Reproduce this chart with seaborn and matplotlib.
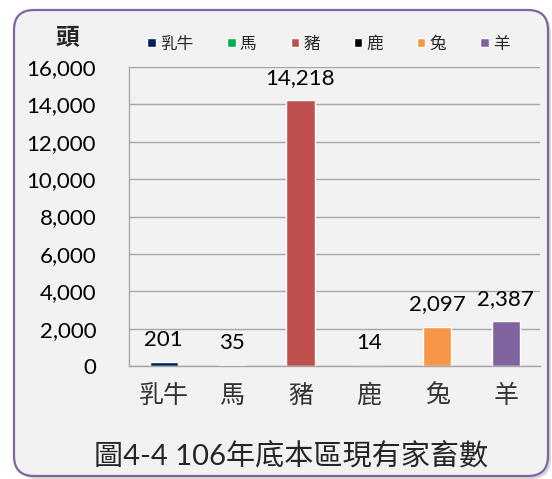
import numpy as np
import pandas as pd
import matplotlib
matplotlib.use('Agg')
import matplotlib.pyplot as plt
import seaborn as sns
from matplotlib.patches import FancyBboxPatch

# dados do gráfico
categorias = ['乳牛', '馬', '豬', '鹿', '兔', '羊']
cabecas = [201, 35, 14218, 14, 2097, 2387]
cores = ['#002060', '#00B050', '#C0504D', '#000000', '#F79646', '#8064A2']
ticks_y = [0, 2000, 4000, 6000, 8000, 10000, 12000, 14000, 16000]
titulo = '圖4-4 106年底本區現有家畜數'
unidade = '頭'

sns.set_style('white')
# fontes definidas depois do set_style
plt.rcParams['font.family'] = ['Lato', 'Noto Sans CJK TC', 'DejaVu Sans']

df = pd.DataFrame({'categoria': categorias, 'cabecas': cabecas})

fig = plt.figure(figsize=(5.52, 4.79), dpi=100)
fig.patch.set_facecolor('white')

# moldura arredondada com sombra (atrás dos eixos)
sombra = FancyBboxPatch((0.17, 0.0), 5.34, 4.66,
                        boxstyle='round,pad=0,rounding_size=0.2',
                        transform=fig.dpi_scale_trans,
                        fc='#c8c8c8', ec='none', alpha=0.7, zorder=-2)
moldura = FancyBboxPatch((0.14, 0.03), 5.34, 4.66,
                         boxstyle='round,pad=0,rounding_size=0.2',
                         transform=fig.dpi_scale_trans,
                         fc='#f2f2f2', ec='#8064A2', lw=1.6, zorder=-1)
fig.patches.extend([sombra, moldura])

ax = fig.add_axes([0.2346, 0.236, 0.7434, 0.624])
ax.set_facecolor('none')
ax.set_zorder(1)

sns.barplot(data=df, x='categoria', y='cabecas', hue='categoria',
            palette=cores, width=0.41, saturation=1, ax=ax, legend=True)

cinza = '#a6a6a6'
ax.set_ylim(0, 16000)
ax.set_xlim(-0.5, 5.5)
ax.set_yticks(ticks_y)
ax.set_yticklabels([f'{v:,}' for v in ticks_y])
ax.yaxis.grid(True, color=cinza, lw=1)
ax.set_axisbelow(True)

# marcas do eixo x nas divisas, rótulos no centro
ax.set_xticks(np.arange(-0.5, 6, 1))
ax.set_xticklabels([])
ax.set_xticks(np.arange(len(categorias)), minor=True)
ax.set_xticklabels(categorias, minor=True, fontsize=18,
                   family=['Noto Sans CJK TC'], color='#333333')
ax.tick_params(axis='x', which='major', length=7, color=cinza, width=1)
ax.tick_params(axis='x', which='minor', length=0, pad=12)
ax.tick_params(axis='y', length=7, color=cinza, width=1, pad=17,
               labelsize=16, labelcolor='#000000')

for lado in ['top', 'right']:
    ax.spines[lado].set_visible(False)
for lado in ['left', 'bottom']:
    ax.spines[lado].set_color(cinza)
    ax.spines[lado].set_linewidth(1)

ax.set_xlabel('')
ax.set_ylabel('')

# rótulos de valor
for i, v in enumerate(cabecas):
    ax.annotate(f'{v:,}', (i, v), xytext=(0, 16), textcoords='offset points',
                ha='center', va='center', fontsize=16, color='#000000')

# legenda no topo
handles, labels = ax.get_legend_handles_labels()
ax.get_legend().remove()
fig.legend(handles, labels, loc='center', bbox_to_anchor=(0.595, 0.908),
           ncol=6, frameon=False, handlelength=0.5,
           handleheight=0.5, handletextpad=0.25, columnspacing=2.05,
           prop={'family': ['Noto Sans CJK TC'], 'size': 12})

fig.text(67 / 552, 1 - 37 / 479, unidade, ha='center', va='center',
         fontsize=17, fontweight='bold', family=['Noto Sans CJK TC'])
fig.text(291 / 552, (479 - 457) / 479, titulo, ha='center', va='center',
         fontsize=21, color='#262626')

fig.savefig('out.png', dpi=100, facecolor='white')
